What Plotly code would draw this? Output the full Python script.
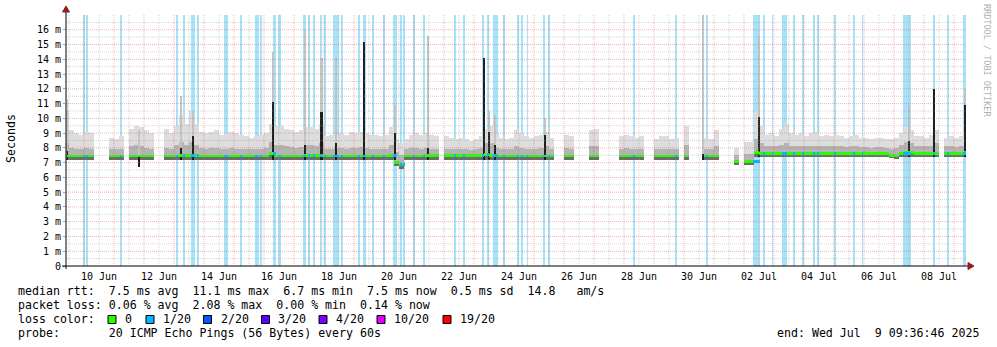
import pandas as pd
import plotly.graph_objects as go

# ---------------------------------------------------------------------------
# Round-trip time summary, 4-hour bins starting 2025-06-09 08:00 (ms)
# None = no data collected in that bin
# ---------------------------------------------------------------------------
BIN_START = "2025-06-09 08:00"
BIN_HOURS = 4
WINDOW = ("2025-06-09 09:36:46", "2025-07-09 09:36:46")
Y_MAX = 17

N = None

rtt_med = [
    7.45, 7.45, 7.45, 7.45, 7.45, 7.45, N, N, N, 7.45,
    7.45, 7.45, N, 7.45, 7.45, 7.45, 7.45, 7.45, N, N,
    7.45, 7.45, 7.45, 7.5, 7.5, 7.5, 7.5, 7.45, 7.45, 7.45,
    7.45, 7.45, 7.45, 7.45, 7.45, 7.45, 7.45, 7.45, 7.45, 7.45,
    7.45, 7.6, 7.45, 7.45, 7.45, 7.45, 7.45, 7.45, 7.5, 7.5,
    7.5, 7.5, 7.45, 7.45, 7.45, 7.45, 7.45, 7.45, 7.45, 7.45,
    7.45, 7.45, 7.45, 7.45, 7.45, 7.5, 7.0, 6.85, 7.45, 7.45,
    7.45, 7.45, 7.5, 7.5, 7.5, N, 7.5, 7.5, 7.5, 7.5,
    7.5, 7.5, 7.5, 7.5, 7.55, 7.5, 7.45, 7.45, 7.45, 7.45,
    7.45, 7.45, 7.45, 7.45, 7.45, 7.45, 7.45, 7.45, N, N,
    7.45, 7.45, N, N, N, 7.45, 7.45, N, N, N,
    N, 7.45, 7.45, 7.45, 7.45, 7.45, N, N, 7.45, 7.45,
    7.45, 7.45, 7.45, N, 7.45, N, N, N, 7.45, 7.45,
    7.45, N, N, N, 7.1, N, 7.05, 7.05, 7.7, 7.65,
    7.6, 7.6, 7.6, 7.6, 7.65, 7.6, 7.6, 7.6, 7.6, 7.6,
    7.6, 7.6, 7.6, 7.6, 7.6, 7.6, 7.6, 7.6, 7.6, 7.6,
    7.6, 7.6, 7.6, 7.6, 7.6, 7.5, 7.45, 7.65, 7.7, 7.7,
    7.65, 7.65, 7.65, 7.65, 7.65, N, 7.6, 7.6, 7.6, 7.6,
    7.7,
]

rtt_lo = [
    7.2, 7.2, 7.2, 7.2, 7.2, 7.2, N, N, N, 7.2,
    7.2, 7.2, N, 7.2, 7.2, 7.2, 7.2, 7.2, N, N,
    7.2, 7.2, 7.2, 7.2, 7.2, 7.2, 7.2, 7.2, 7.2, 7.2,
    7.2, 7.2, 7.2, 7.2, 7.2, 7.2, 7.2, 7.2, 7.2, 7.2,
    7.2, 7.2, 7.2, 7.2, 7.2, 7.2, 7.2, 7.2, 7.2, 7.2,
    7.2, 7.2, 7.2, 7.2, 7.2, 7.2, 7.2, 7.2, 7.2, 7.2,
    7.2, 7.2, 7.2, 7.2, 7.2, 7.2, 6.75, 6.6, 7.2, 7.2,
    7.2, 7.2, 7.2, 7.2, 7.2, N, 7.2, 7.2, 7.2, 7.2,
    7.2, 7.2, 7.2, 7.2, 7.2, 7.2, 7.2, 7.2, 7.2, 7.2,
    7.2, 7.2, 7.2, 7.2, 7.2, 7.2, 7.2, 7.2, N, N,
    7.2, 7.2, N, N, N, 7.2, 7.2, N, N, N,
    N, 7.2, 7.2, 7.2, 7.2, 7.2, N, N, 7.2, 7.2,
    7.2, 7.2, 7.2, N, 7.2, N, N, N, 7.2, 7.2,
    7.2, N, N, N, 6.85, N, 6.85, 6.85, 7.35, 7.35,
    7.35, 7.35, 7.35, 7.35, 7.35, 7.35, 7.35, 7.35, 7.35, 7.35,
    7.35, 7.35, 7.35, 7.35, 7.35, 7.35, 7.35, 7.35, 7.35, 7.35,
    7.35, 7.35, 7.35, 7.35, 7.35, 7.3, 7.25, 7.35, 7.35, 7.35,
    7.35, 7.35, 7.35, 7.35, 7.35, N, 7.35, 7.35, 7.35, 7.35,
    7.35,
]

rtt_q3 = [
    8.3, 8.0, 7.95, 7.95, 8.0, 7.95, N, N, N, 7.9,
    7.9, 7.95, N, 8.1, 8.2, 8.1, 8.0, 7.95, N, N,
    8.0, 7.95, 8.2, 8.4, 8.2, 8.4, 8.2, 8.0, 7.95, 8.0,
    8.0, 7.95, 7.95, 8.0, 7.95, 7.95, 7.9, 7.9, 7.9, 7.95,
    8.0, 8.4, 8.2, 8.2, 8.1, 8.05, 8.0, 8.05, 8.2, 8.2,
    8.1, 8.3, 7.95, 7.95, 8.0, 8.0, 7.95, 8.0, 8.0, 8.05,
    8.0, 7.95, 7.95, 7.9, 7.95, 8.2, 7.7, 7.5, 7.9, 8.0,
    8.0, 7.95, 8.0, 7.95, 7.95, N, 7.95, 7.9, 7.9, 7.9,
    7.9, 7.85, 7.9, 8.0, 8.3, 8.3, 8.0, 7.9, 7.9, 7.9,
    8.1, 8.0, 7.95, 7.9, 7.95, 8.0, 8.1, 7.9, N, N,
    8.0, 7.95, N, N, N, 8.1, 8.1, N, N, N,
    N, 7.95, 8.0, 7.95, 7.9, 7.95, N, N, 7.9, 7.95,
    7.95, 7.9, 7.9, N, 8.2, N, N, N, 7.9, 7.9,
    8.1, N, N, N, 7.5, N, 7.6, 7.6, 8.6, 8.3,
    8.1, 8.15, 8.1, 8.2, 8.3, 8.15, 8.1, 8.15, 8.1, 8.15,
    8.15, 8.1, 8.1, 8.1, 8.1, 8.1, 8.05, 8.1, 8.1, 8.05,
    8.05, 8.0, 8.05, 8.05, 8.0, 7.95, 8.0, 8.2, 8.4, 8.3,
    8.15, 8.1, 8.1, 8.15, 8.3, N, 8.1, 8.1, 8.05, 8.1,
    8.4,
]

rtt_hi = [
    10.5, 9.2, 9.0, 8.9, 9.1, 9.0, N, N, N, 8.7,
    8.6, 8.8, N, 9.3, 9.5, 9.4, 9.2, 9.0, N, N,
    9.3, 9.0, 9.5, 10.2, 9.6, 10.5, 9.6, 9.1, 9.0, 9.1,
    9.2, 8.9, 9.0, 9.1, 9.0, 8.9, 8.8, 8.7, 8.8, 8.9,
    9.0, 9.6, 9.5, 9.5, 9.3, 9.2, 9.1, 9.2, 9.4, 9.4,
    9.3, 9.6, 8.8, 8.9, 8.9, 9.0, 8.9, 9.1, 9.0, 9.1,
    9.0, 8.9, 8.9, 8.8, 8.9, 9.4, 8.6, 8.3, 8.6, 8.9,
    9.0, 8.9, 9.0, 8.9, 8.8, N, 8.8, 8.7, 8.6, 8.7,
    8.6, 8.5, 8.6, 8.8, 9.3, 9.5, 9.0, 8.7, 8.6, 8.7,
    9.2, 9.0, 8.8, 8.7, 8.8, 8.9, 9.1, 8.7, N, N,
    8.9, 8.8, N, N, N, 9.2, 9.3, N, N, N,
    N, 8.8, 8.9, 8.8, 8.7, 8.8, N, N, 8.6, 8.8,
    8.8, 8.6, 8.7, N, 9.5, N, N, N, 8.7, 8.6,
    9.2, N, N, N, 8.0, N, 8.4, 8.4, 10.5, 9.5,
    8.9, 9.0, 8.8, 9.3, 9.6, 9.0, 8.9, 9.0, 8.8, 9.0,
    9.1, 8.8, 8.9, 8.8, 8.9, 8.8, 8.7, 8.8, 8.9, 8.7,
    8.7, 8.6, 8.7, 8.7, 8.6, 8.6, 8.7, 9.0, 9.5, 9.2,
    8.8, 8.8, 8.7, 8.9, 9.2, N, 8.7, 8.8, 8.7, 8.8,
    9.5,
]

# Short bursts of high latency: start, minutes, lowest ping, dense core top, outlier top
spike_start = [
    "2025-06-09 10:25", "2025-06-11 19:10", "2025-06-13 04:50", "2025-06-13 14:25",
    "2025-06-16 06:25", "2025-06-17 08:00", "2025-06-17 21:35", "2025-06-18 08:50",
    "2025-06-19 08:00", "2025-06-20 08:00", "2025-06-21 10:25", "2025-06-23 07:35",
    "2025-06-23 12:00", "2025-06-23 16:00", "2025-06-25 08:00", "2025-06-30 15:10",
    "2025-07-02 11:10", "2025-07-07 11:10", "2025-07-08 08:00", "2025-07-09 08:00",
]
spike_minutes = [48, 96, 48, 96, 96, 96, 96, 48, 48, 96, 96, 48, 48, 96, 96, 48, 96, 96, 48, 96]
spike_min = [7.2, 6.7, 7.2, 7.2, 7.2, 7.2, 7.2, 7.2, 7.2, 7.2, 7.2, 7.2, 7.2, 7.2, 7.2, 7.2,
             7.35, 7.35, 7.35, 7.35]
spike_core = [7.8, 7.5, 8.0, 8.8, 11.1, 8.2, 10.4, 8.3, 15.2, 9.0, 8.0, 14.1, 9.1, 8.2, 8.9, 7.6,
              10.1, 8.5, 12.0, 10.9]
spike_top = [11.3, 9.2, 11.5, 10.5, 14.5, 16.0, 14.1, 14.1, 15.2, 10.9, 15.6, 14.1, 10.5, 10.2,
             10.0, 17.0, 15.6, 10.9, 12.0, 12.0]

# Periods with packet loss (1/20 pings lost): start time and duration in minutes
loss_start = [
    "2025-06-09 23:25", "2025-06-10 01:50", "2025-06-11 05:00", "2025-06-13 02:10",
    "2025-06-13 07:25", "2025-06-13 13:35", "2025-06-13 16:00", "2025-06-13 18:40",
    "2025-06-14 16:15", "2025-06-14 17:50", "2025-06-15 05:00", "2025-06-15 17:00",
    "2025-06-15 19:00", "2025-06-15 20:50", "2025-06-16 07:10", "2025-06-16 11:10",
    "2025-06-17 07:25", "2025-06-17 11:25", "2025-06-17 14:55", "2025-06-17 20:50",
    "2025-06-18 00:00", "2025-06-18 06:55", "2025-06-18 13:20", "2025-06-19 04:00",
    "2025-06-19 07:25", "2025-06-19 15:10", "2025-06-19 23:45", "2025-06-20 06:55",
    "2025-06-20 13:00", "2025-06-20 15:25", "2025-06-21 00:00", "2025-06-21 07:25",
    "2025-06-22 08:15", "2025-06-22 15:25", "2025-06-23 07:10", "2025-06-23 10:10",
    "2025-06-23 15:10", "2025-06-23 23:25", "2025-06-24 11:10", "2025-06-24 14:10",
    "2025-06-24 18:25", "2025-06-25 07:10", "2025-06-25 10:55", "2025-06-28 08:00",
    "2025-06-29 16:50", "2025-06-30 18:10", "2025-07-02 07:10", "2025-07-02 15:45",
    "2025-07-02 22:25", "2025-07-03 06:25", "2025-07-03 15:10", "2025-07-03 23:10",
    "2025-07-04 06:55", "2025-07-04 11:10", "2025-07-05 00:35", "2025-07-05 15:45",
    "2025-07-05 22:25", "2025-07-07 07:10", "2025-07-08 07:10", "2025-07-08 19:10",
    "2025-07-09 07:10",
]
loss_minutes = [
    48, 48, 48, 48, 96, 96, 48, 48, 48, 48, 48, 48, 48, 48, 144, 144,
    144, 96, 96, 96, 96, 288, 96, 48, 144, 48, 48, 192, 48, 48, 48, 48,
    48, 48, 48, 96, 240, 48, 48, 48, 48, 96, 96, 48, 48, 48, 336, 48,
    48, 240, 96, 48, 96, 48, 48, 48, 48, 384, 96, 48, 144,
]

loss_levels = ["0", "1/20", "2/20", "3/20", "4/20", "10/20", "19/20"]
loss_colors = ["#26ff00", "#00b8ff", "#0059ff", "#5e00ff", "#7e00ff", "#dd00ff", "#ff0000"]

stats_rtt = "median rtt:  7.5 ms avg  11.1 ms max  6.7 ms min  7.5 ms now  0.5 ms sd  14.8   am/s"
stats_loss = "packet loss: 0.06 % avg  2.08 % max  0.00 % min  0.14 % now"
probe_text = "probe:       20 ICMP Echo Pings (56 Bytes) every 60s"
end_text = "end: Wed Jul  9 09:36:46 2025"

# ---------------------------------------------------------------------------
MONO = "DejaVu Sans Mono"
SMOKE_LIGHT = "#dddddd"
SMOKE_MID = "#b4b4b4"
SMOKE_DARK = "#6c6c6c"
LOSS_BG = "#a8e2f8"
GRID_MINOR = "rgba(160,160,160,0.45)"
GRID_MAJOR = "rgba(215,90,90,0.45)"

t0 = pd.Timestamp(BIN_START)
step = pd.Timedelta(hours=BIN_HOURS)
centers = [t0 + step * k + step / 2 for k in range(len(rtt_med))]
bin_ms = BIN_HOURS * 3600 * 1000


def band(lo, hi):
    base, height = [], []
    for a, b in zip(lo, hi):
        if a is None or b is None:
            base.append(None)
            height.append(None)
        else:
            base.append(a)
            height.append(b - a)
    return base, height


def bar(x, base, height, width, color):
    return go.Bar(x=x, y=height, base=base, width=width,
                  marker=dict(color=color, line=dict(width=0)),
                  hoverinfo="skip", showlegend=False)


fig = go.Figure()

# loss background stripes (full height)
ls = [pd.Timestamp(s) for s in loss_start]
lm = [pd.Timedelta(minutes=m) for m in loss_minutes]
fig.add_trace(bar([s + d / 2 for s, d in zip(ls, lm)], [0] * len(ls), [Y_MAX] * len(ls),
                  [d.total_seconds() * 1000 for d in lm], LOSS_BG))

# smoke layers
b, h = band(rtt_lo, rtt_hi)
fig.add_trace(bar(centers, b, h, bin_ms, SMOKE_LIGHT))
b, h = band(rtt_lo, rtt_q3)
fig.add_trace(bar(centers, b, h, bin_ms, SMOKE_MID))
b, h = band(rtt_lo, rtt_med)
fig.add_trace(bar(centers, b, h, bin_ms, SMOKE_DARK))

# latency bursts
ss = [pd.Timestamp(s) for s in spike_start]
sm = [pd.Timedelta(minutes=m) for m in spike_minutes]
sx = [s + d / 2 for s, d in zip(ss, sm)]
sw = [d.total_seconds() * 1000 for d in sm]
b, h = band(spike_min, spike_top)
fig.add_trace(bar(sx, b, h, sw, "#c4c4c4"))
b, h = band(spike_min, spike_core)
fig.add_trace(bar(sx, b, h, sw, "#1e1e1e"))

# median line
mb = [None if m is None else m - 0.1 for m in rtt_med]
mh = [None if m is None else 0.2 for m in rtt_med]
fig.add_trace(bar(centers, mb, mh, bin_ms, loss_colors[0]))

# median coloured by loss where pings were lost
lx, lb, lw = [], [], []
for s, d in zip(ls, lm):
    k = int((s - t0) / step)
    if 0 <= k < len(rtt_med) and rtt_med[k] is not None:
        lx.append(s + d / 2)
        lb.append(rtt_med[k] - 0.1)
        lw.append(d.total_seconds() * 1000)
fig.add_trace(bar(lx, lb, [0.2] * len(lx), lw, loss_colors[1]))

# dotted grid, drawn over the data
x_lo, x_hi = pd.Timestamp(WINDOW[0]), pd.Timestamp(WINDOW[1])
grid_t = pd.date_range(x_lo.ceil("12h"), x_hi, freq="12h")
grid_y = [i / 2 for i in range(1, 2 * Y_MAX)]


def gridtrace(xs, ys, color):
    return go.Scatter(x=xs, y=ys, mode="lines", hoverinfo="skip", showlegend=False,
                      line=dict(color=color, width=1, dash="1px,1px"))


for major, color in ((False, GRID_MINOR), (True, GRID_MAJOR)):
    xs, ys = [], []
    for t in grid_t:
        if (t.hour == 0) == major:
            xs += [t, t, None]
            ys += [0, Y_MAX, None]
    for y in grid_y:
        if (y == int(y)) == major:
            xs += [x_lo, x_hi, None]
            ys += [y, y, None]
    fig.add_trace(gridtrace(xs, ys, color))

# ---------------------------------------------------------------------------
PL, PT, PW, PH = 66, 15, 900, 251


def px(x):
    return (x - PL) / PW


def py(y):
    return (PT + PH - y) / PH


shapes = []
AX = "#000000"
ARROW = "#8e1f1f"
shapes.append(dict(type="line", xref="paper", yref="paper", x0=px(62), x1=px(968),
                   y0=0, y1=0, line=dict(color=AX, width=1)))
shapes.append(dict(type="line", xref="paper", yref="paper", x0=0, x1=0,
                   y0=py(269), y1=py(12), line=dict(color=AX, width=1)))
shapes.append(dict(type="path", xref="paper", yref="paper", fillcolor=ARROW,
                   line=dict(color=ARROW, width=1),
                   path=f"M {px(62.5)},{py(12)} L {px(69.5)},{py(12)} L {px(66)},{py(6)} Z"))
shapes.append(dict(type="path", xref="paper", yref="paper", fillcolor=ARROW,
                   line=dict(color=ARROW, width=1),
                   path=f"M {px(968)},{py(262.5)} L {px(968)},{py(269.5)} L {px(974)},{py(266)} Z"))

annotations = []


def text(x, y, s, size=11.6, anchor="left", color="#000000", angle=0):
    annotations.append(dict(xref="paper", yref="paper", x=px(x), y=py(y), text=s.replace(" ", "\u00a0"),
                            showarrow=False, xanchor=anchor, yanchor="middle", textangle=angle,
                            font=dict(family=MONO, size=size, color=color)))


text(16, 291, stats_rtt)
text(16, 305, stats_loss)
text(16, 319, "loss color:")
sq_x = [108, 146, 203.5, 261.5, 319, 377, 443]
lab_x = [123, 160.5, 218.5, 276, 334, 391.5, 457.5]
for sx0, lx0, lab, col in zip(sq_x, lab_x, loss_levels, loss_colors):
    shapes.append(dict(type="rect", xref="paper", yref="paper", x0=px(sx0), x1=px(sx0 + 8),
                       y0=py(323.5), y1=py(315.5), fillcolor=col, line=dict(color="#000", width=1)))
    text(lx0, 319, lab)
text(16, 333, probe_text)
text(981, 333, end_text, anchor="right")
text(11, 139, "Seconds", angle=-90)
annotations[-1]["xanchor"] = "center"
text(987, 60, "RRDTOOL / TOBI OETIKER", size=8.5, color="#b0b0b0", angle=90)
annotations[-1]["xanchor"] = "center"

fig.update_layout(
    width=997, height=347,
    margin=dict(l=PL, r=997 - PL - PW, t=PT, b=347 - PT - PH),
    paper_bgcolor="white", plot_bgcolor="white",
    barmode="overlay", bargap=0, showlegend=False,
    xaxis=dict(type="date", range=[x_lo, x_hi], tick0="2025-06-10 12:00",
               dtick=2 * 86400000, tickformat="%d %b", showgrid=False, zeroline=False,
               showline=False, ticks="", fixedrange=True, ticklabelstandoff=3,
               tickfont=dict(family=MONO, size=10, color="#000")),
    yaxis=dict(range=[0, Y_MAX], tickvals=list(range(Y_MAX)),
               ticktext=["0"] + [f"{i} m" for i in range(1, Y_MAX)],
               showgrid=False, zeroline=False, showline=False, ticks="outside",
               ticklen=2, tickcolor="#a0a0a0", fixedrange=True,
               tickfont=dict(family=MONO, size=10, color="#000")),
    shapes=shapes, annotations=annotations,
)

fig.write_html("out.html")
